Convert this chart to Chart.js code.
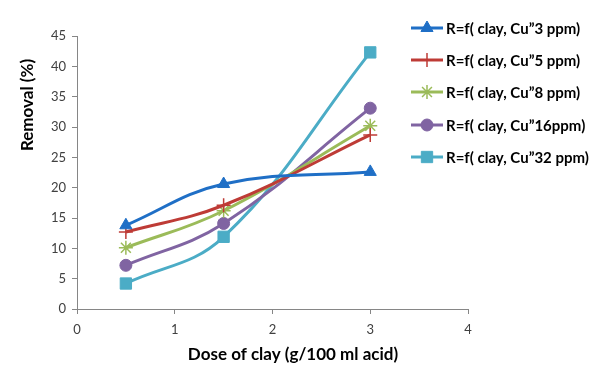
<!DOCTYPE html>
<html>
<head>
<meta charset="utf-8">
<script src="https://cdn.jsdelivr.net/npm/chart.js@4/dist/chart.umd.min.js"></script>
<style>
  html, body { margin: 0; padding: 0; background: #fff; }
  #wrap { width: 612px; height: 391px; }
</style>
</head>
<body>
<div id="wrap"><canvas id="chart" width="612" height="391"></canvas></div>
<script>
const doses = [0.5, 1.5, 3];
const cu3 = [13.8, 20.6, 22.6];
const cu5 = [12.7, 17.1, 28.7];
const cu8 = [10.1, 16.2, 30.2];
const cu16 = [7.2, 14.1, 33.1];
const cu32 = [4.2, 11.9, 42.3];
const seriesLabels = [
  "R=f( clay, Cu\u201d3 ppm)",
  "R=f( clay, Cu\u201d5 ppm)",
  "R=f( clay, Cu\u201d8 ppm)",
  "R=f( clay, Cu\u201d16ppm)",
  "R=f( clay, Cu\u201d32 ppm)",
];
const xTitle = "Dose of clay (g/100 ml acid)";
const yTitle = "Removal (%)";

const font = "Lato, 'Open Sans', sans-serif";
const axisGray = "#868686";

const makeSet = (label, values, color, style, radius) => ({
  label,
  data: doses.map((x, i) => ({ x, y: values[i] })),
  borderColor: color,
  backgroundColor: color,
  borderWidth: 3,
  pointStyle: style,
  pointRadius: radius,
  pointBorderWidth: style === "cross" || style === "star" ? 1.5 : 1,
  tension: 0.4,
});

const datasets = [
  makeSet(seriesLabels[0], cu3, "#1F6FC6", "triangle", 7),
  makeSet(seriesLabels[1], cu5, "#BE3B36", "cross", 7),
  makeSet(seriesLabels[2], cu8, "#9BBB59", "star", 7),
  makeSet(seriesLabels[3], cu16, "#8064A2", "circle", 6),
  makeSet(seriesLabels[4], cu32, "#4BACC6", "rect", 8),
];

// legend + axis titles drawn by hand, the legend overlaps the plot's right edge in the original
const sideLegend = {
  id: "sideLegend",
  afterDraw(chart) {
    const ctx = chart.ctx;
    const rows = [28, 60, 92, 125, 157];
    chart.data.datasets.forEach((ds, i) => {
      const y = rows[i];
      ctx.save();
      ctx.strokeStyle = ds.borderColor;
      ctx.fillStyle = ds.borderColor;
      ctx.lineWidth = 3;
      ctx.beginPath();
      ctx.moveTo(411, y);
      ctx.lineTo(443, y);
      ctx.stroke();
      ctx.lineWidth = ds.pointBorderWidth;
      Chart.helpers.drawPoint(ctx, {
        pointStyle: ds.pointStyle,
        radius: ds.pointRadius,
        rotation: 0,
        borderWidth: ds.pointBorderWidth,
      }, 427, y);
      ctx.fillStyle = "#000";
      ctx.font = "bold 15px " + font;
      ctx.textBaseline = "middle";
      ctx.fillText(ds.label, 446, y + 1);
      ctx.restore();
    });

    ctx.save();
    ctx.fillStyle = "#000";
    ctx.font = "bold 17px " + font;
    ctx.textAlign = "center";
    ctx.textBaseline = "middle";
    ctx.fillText(xTitle, 293, 355);
    ctx.translate(28, 105);
    ctx.rotate(-Math.PI / 2);
    ctx.fillText(yTitle, 0, 0);
    ctx.restore();
  },
};

new Chart(document.getElementById("chart"), {
  type: "line",
  data: { datasets },
  plugins: [sideLegend],
  options: {
    responsive: false,
    animation: false,
    layout: { padding: { top: 36, right: 144, left: 0, bottom: 0 } },
    plugins: {
      legend: { display: false },
      tooltip: { enabled: false },
    },
    scales: {
      x: {
        type: "linear",
        min: 0,
        max: 4,
        ticks: { stepSize: 1, color: "#404040", font: { family: font, size: 13 }, padding: 8 },
        grid: { drawOnChartArea: false, color: axisGray, tickLength: 5, tickColor: axisGray },
        border: { color: axisGray, width: 1 },
        afterFit(scale) { scale.height = 82; },
      },
      y: {
        min: 0,
        max: 45,
        ticks: { stepSize: 5, color: "#404040", font: { family: font, size: 13 }, padding: 6 },
        grid: { drawOnChartArea: false, color: axisGray, tickLength: 5, tickColor: axisGray },
        border: { color: axisGray, width: 1 },
        afterFit(scale) { scale.width = 77; },
      },
    },
  },
});
</script>
</body>
</html>
